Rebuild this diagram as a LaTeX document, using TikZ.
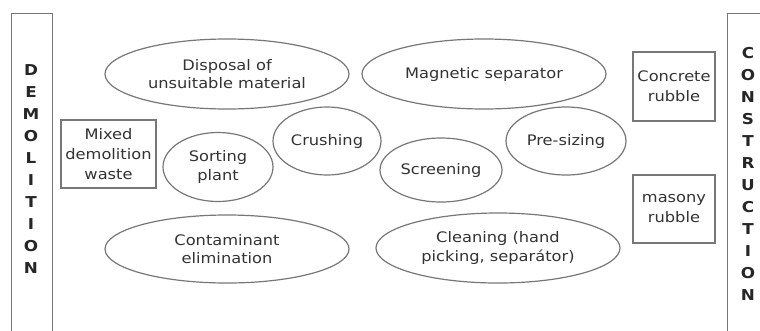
\documentclass[tikz,border=0pt]{standalone}
\usepackage{fontspec}
\setmainfont[FakeStretch=1.12]{DejaVu Sans}
\usetikzlibrary{shapes.geometric}
\definecolor{linec}{HTML}{777777}
\definecolor{textc}{HTML}{333333}
\tikzset{
  oval/.style={ellipse, draw=linec, line width=1.2pt, inner sep=0pt, text=textc,
    align=center, font=\fontsize{14.5}{18.5}\selectfont},
  boxn/.style={rectangle, draw=linec, line width=1.2pt, inner sep=0pt, text=textc,
    align=center, font=\fontsize{14.5}{20}\selectfont},
  side/.style={rectangle, draw=linec, line width=1.2pt, inner sep=0pt},
  vert/.style={text=black!85, align=center, inner sep=0pt, font=\bfseries\fontsize{15}{22}\selectfont}
}
\begin{document}
\begin{tikzpicture}[x=1pt,y=-1pt]
\useasboundingbox (0,0) rectangle (760,330);
\clip (0,0) rectangle (760,330);
\fill[white] (0,0) rectangle (760,330);
% side bars
\node[side, minimum width=41pt, minimum height=340pt, anchor=north west] (demo) at (11,13) {};
\node[vert] (demotext) at (31,169) {D\\E\\M\\O\\L\\I\\T\\I\\O\\N};
\node[side, minimum width=50pt, minimum height=340pt, anchor=north west] (cons) at (727,13) {};
\node[vert] (constext) at (748,173.5) {C\\O\\N\\S\\T\\R\\U\\C\\T\\I\\O\\N};
% boxes
\node[boxn, minimum width=95pt, minimum height=68pt] (mixed) at (108.5,154) {Mixed\\demolition\\waste};
\node[boxn, minimum width=82pt, minimum height=69pt] (concrete) at (674,86.5) {Concrete\\rubble};
\node[boxn, minimum width=82pt, minimum height=68pt] (masony) at (674,209) {masony\\rubble};
% ellipses
\node[oval, minimum width=244pt, minimum height=70pt] (disposal) at (227,74) {Disposal of\\unsuitable material};
\node[oval, minimum width=244pt, minimum height=70pt] (magnetic) at (484,74) {Magnetic separator};
\node[oval, minimum width=110pt, minimum height=69pt] (sorting) at (218,167) {Sorting\\plant};
\node[oval, minimum width=108pt, minimum height=68pt] (crushing) at (327,141) {Crushing};
\node[oval, minimum width=122pt, minimum height=64pt] (screening) at (441,170) {Screening};
\node[oval, minimum width=120pt, minimum height=68pt] (presizing) at (566,141) {Pre-sizing};
\node[oval, minimum width=244pt, minimum height=68pt] (contam) at (227,249) {Contaminant\\elimination};
\node[oval, minimum width=244pt, minimum height=70pt] (cleaning) at (498,248) {Cleaning (hand\\picking, separátor)};
\end{tikzpicture}
\end{document}
